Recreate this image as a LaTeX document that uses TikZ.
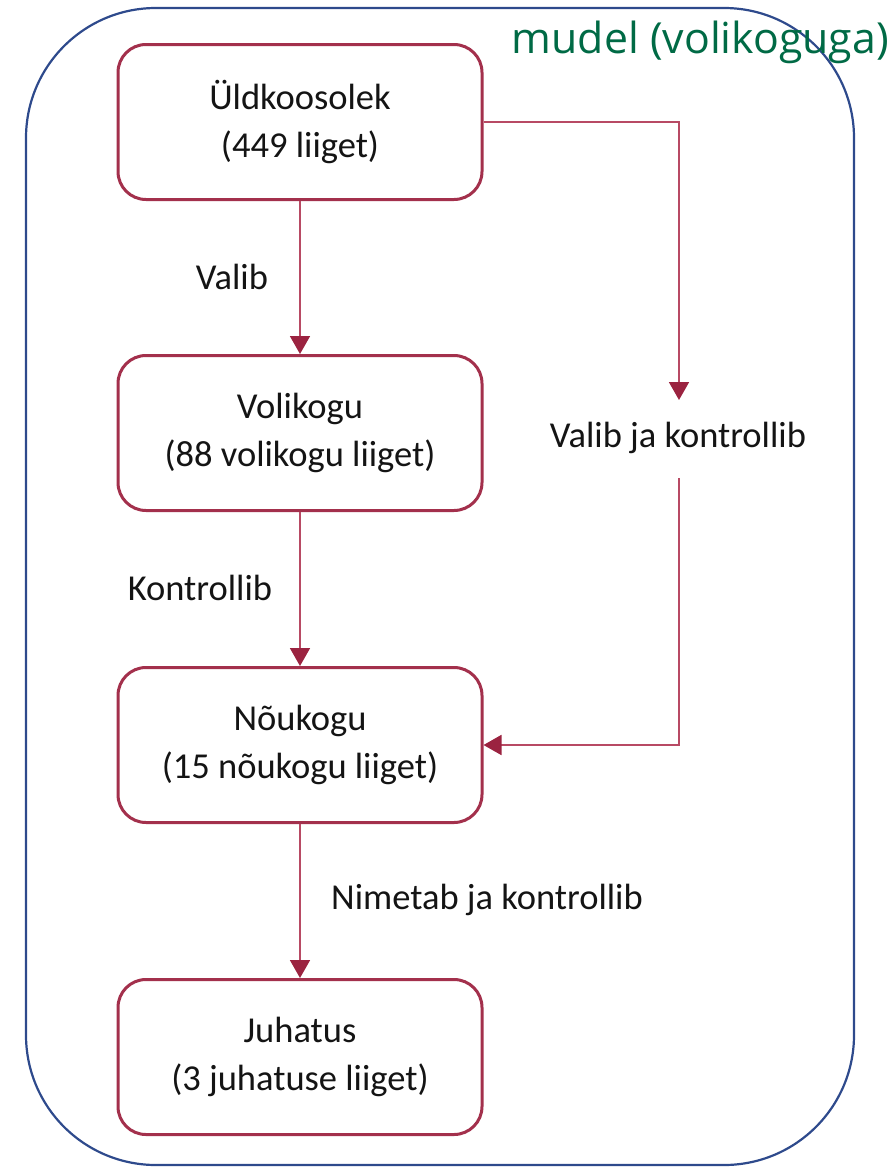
\documentclass[tikz,border=0pt]{standalone}
\usepackage{fontspec}
\setmainfont{Carlito}
\newfontfamily\titlefont{Open Sans}
\usetikzlibrary{arrows.meta}
\definecolor{boxred}{HTML}{A3304C}
\definecolor{linered}{HTML}{B84A64}
\definecolor{tipred}{HTML}{9B2340}
\definecolor{frameblue}{HTML}{2E4A8C}
\definecolor{titlegreen}{HTML}{006A45}
\definecolor{txt}{HTML}{141414}
\tikzset{
  orgbox/.style={draw=boxred, line width=3pt, rounded corners=28pt, fill=white,
    minimum width=364pt, minimum height=155pt, align=center, text=txt,
    font=\fontsize{36.5}{48}\selectfont, inner sep=0pt},
  lbl/.style={text=txt, font=\fontsize{36.5}{48}\selectfont, inner sep=0pt},
  arr/.style={draw=linered, line width=1.8pt,
    -{Triangle[length=18pt,width=20pt,fill=tipred,color=tipred]}},
  plain/.style={draw=linered, line width=1.8pt}
}
\begin{document}
\begin{tikzpicture}[x=1pt,y=-1pt]
\useasboundingbox (0,0) rectangle (892,1167);
\draw[frameblue, line width=2.2pt, rounded corners=130pt] (26,8) rectangle (854,1165);
\node[text=titlegreen, font=\titlefont\fontsize{42.8}{50}\selectfont, inner sep=0pt, anchor=east] (title) at (889,42) {mudel (volikoguga)};

\node[orgbox] (u) at (300,122) {Üldkoosolek\\(449 liiget)};
\node[orgbox] (v) at (300,433) {Volikogu\\(88 volikogu liiget)};
\node[orgbox] (n) at (300,745) {Nõukogu\\(15 nõukogu liiget)};
\node[orgbox] (j) at (300,1057) {Juhatus\\(3 juhatuse liiget)};

\draw[arr] (u) -- (v);
\draw[arr] (v) -- (n);
\draw[arr] (n) -- (j);

\coordinate (a1) at (679,400);
\coordinate (a2) at (679,478);
\draw[arr] (u.east) -| (a1);
\draw[arr] (a2) |- (n.east);

\node[lbl] (l1) at (232,277) {Valib};
\node[lbl] (l2) at (200,588) {Kontrollib};
\node[lbl] (l3) at (487,900) {Nimetab ja kontrollib};
\node[lbl] (l4) at (678,438) {Valib ja kontrollib};
\end{tikzpicture}
\end{document}
